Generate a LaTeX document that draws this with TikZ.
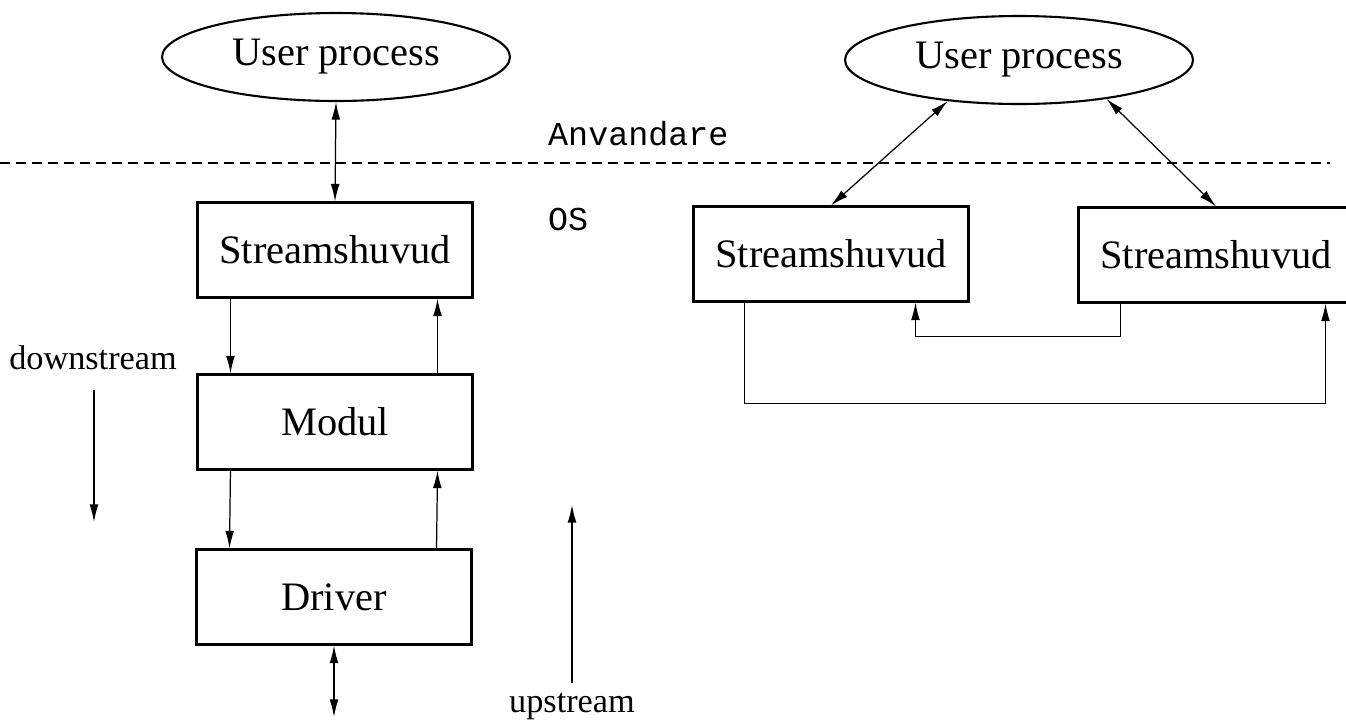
\documentclass[tikz,border=0pt]{standalone}
\usepackage{fontspec}
\setmainfont{Liberation Serif}
\setmonofont{Liberation Mono}
\usetikzlibrary{shapes.geometric,arrows.meta,calc}
\begin{document}
\begin{tikzpicture}[x=0.02cm,y=-0.02cm,
  every node/.style={font=\fontsize{23}{26}\selectfont},
  proc/.style={draw,ellipse,line width=1.2pt,minimum width=6.96cm,minimum height=1.76cm,inner sep=0pt},
  blk/.style={draw,rectangle,line width=1.2pt,minimum width=5.5cm,minimum height=1.9cm,inner sep=0pt},
  lbl/.style={font=\fontsize{19}{22}\selectfont\ttfamily,anchor=base west},
  dir/.style={font=\fontsize{19.5}{22}\selectfont},
  flow/.style={line width=0.7pt,-{Latex[length=10pt,width=5pt]}},
  both/.style={line width=0.7pt,{Latex[length=10pt,width=5pt]}-{Latex[length=10pt,width=5pt]}},
  sep/.style={line width=0.8pt,dash pattern=on 5.7pt off 3.4pt}]
\useasboundingbox (0,0) rectangle (1346,721);

% user/kernel boundary
\coordinate (dl) at (0,163);
\coordinate (dr) at (1330,163);
\draw[sep] (dl) -- (dr);
\node[lbl] (anv) at (542,145) {Anvandare};
\node[lbl] (os) at (542,230) {OS};

% left: a single stream
\node[proc] (upL) at (336,57) {User process};
\node[blk] (sL) at (335,250) {Streamshuvud};
\node[blk] (mL) at (335,422) {Modul};
\node[blk] (dL) at (334,597) {Driver};
\coordinate (bot) at (334,717);

\draw[both] (upL.south) -- (sL.north);
\draw[flow] ($(sL.south west)+(34,0)$) -- ($(mL.north west)+(34,0)$);
\draw[flow] ($(mL.south west)+(34,0)$) -- ($(dL.north west)+(34,0)$);
\draw[flow] ($(mL.north east)+(-36,0)$) -- ($(sL.south east)+(-36,0)$);
\draw[flow] ($(dL.north east)+(-36,0)$) -- ($(mL.south east)+(-36,0)$);
\draw[both] (dL.south) -- (bot);

% direction legends
\node[dir] (down) at (93,358) {downstream};
\coordinate (d1) at (94,390);
\coordinate (d2) at (94,522);
\draw[flow] (d1) -- (d2);
\node[dir,anchor=base] (up) at (572,712) {upstream};
\coordinate (u1) at (572,683);
\coordinate (u2) at (572,505);
\draw[flow] (u1) -- (u2);

% right: two stream heads of one process, cross-linked
\node[proc] (upR) at (1019,60) {User process};
\node[blk] (sR1) at (831,254) {Streamshuvud};
\node[blk] (sR2) at (1216,255) {Streamshuvud};

\draw[both] (upR.210) -- (sR1.north);
\draw[both] (upR.336) -- (sR2.north);
\draw[flow] ($(sR2.south west)+(43,0)$) -- ++(0,33) -| ($(sR1.south west)+(223,0)$);
\draw[flow] ($(sR1.south west)+(52,0)$) -- ++(0,101) -| ($(sR2.south west)+(248,0)$);
\end{tikzpicture}
\end{document}
